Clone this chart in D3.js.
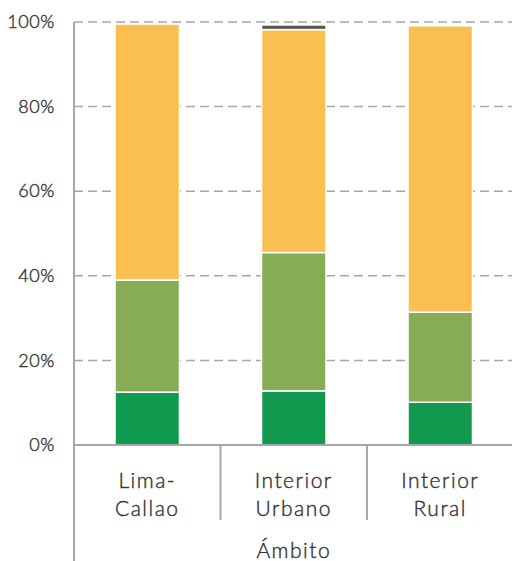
<!DOCTYPE html>
<html><head><meta charset="utf-8">
<script src="https://cdn.jsdelivr.net/npm/d3@7/dist/d3.min.js"></script>
<style>body{margin:0;background:#fff;} text{font-family:Lato,"Open Sans",sans-serif;font-weight:300;fill:#333;stroke:#333;stroke-width:0.4px;}</style>
</head><body><svg id="c" width="512" height="561"></svg>
<script>
const categories = [["Lima-","Callao"],["Interior","Urbano"],["Interior","Rural"]];
const categoryKeys = ["Lima-Callao","Interior Urbano","Interior Rural"];
const seriesKeys = ["s1","s2","s3","s4"];
const s1 = [12.5, 12.8, 10.1];
const s2 = [26.5, 32.7, 21.3];
const s3 = [60.5, 52.7, 67.7];
const s4 = [0, 1.1, 0];
const colors = ["#10994F","#86AC55","#F9BF51","#595959"];
const yTicks = [0,20,40,60,80,100];
const axisTitle = "Ámbito";

const svg = d3.select("#c");
const pL = 74, pR = 513.5, pT = 22, pB = 445;
const x = d3.scaleBand().domain(categoryKeys).range([pL,pR]).padding(0);
const y = d3.scaleLinear().domain([0,100]).range([pB,pT]);
const table = categoryKeys.map((k,i)=>({cat:k,s1:s1[i],s2:s2[i],s3:s3[i],s4:s4[i]}));
const stacked = d3.stack().keys(seriesKeys)(table);
const grid = "#A6A6A6";

// gridlines
svg.append("g").selectAll("line").data(yTicks.filter(d=>d>0)).join("line")
  .attr("x1",pL).attr("x2",512).attr("y1",d=>y(d)).attr("y2",d=>y(d))
  .attr("stroke",grid).attr("stroke-width",1.5).attr("stroke-dasharray","9,5");

// bars
const bw = x.bandwidth()*0.44;
svg.append("g").selectAll("g").data(stacked).join("g").attr("fill",(d,i)=>colors[i])
  .selectAll("rect").data(d=>d).join("rect")
  .attr("x",d=>x(d.data.cat)+(x.bandwidth()-bw)/2).attr("width",bw)
  .attr("y",d=>y(d[1])).attr("height",d=>Math.max(0,y(d[0])-y(d[1])))
  .attr("stroke","#fff").attr("stroke-width",1.5);

// y axis labels
const ya = svg.append("g").attr("transform",`translate(${pL},0)`)
  .call(d3.axisLeft(y).tickValues(yTicks).tickSize(0).tickPadding(19).tickFormat(d=>d+"%"));
ya.select(".domain").remove();
ya.selectAll("text").style("font-size","18px").style("letter-spacing","0.6px").attr("fill","#333")
  .style("font-family","Lato, sans-serif").style("font-weight","300");

// axis lines
svg.append("line").attr("x1",pL).attr("x2",pL).attr("y1",pT).attr("y2",561).attr("stroke",grid).attr("stroke-width",2);
svg.append("line").attr("x1",pL).attr("x2",512).attr("y1",pB).attr("y2",pB).attr("stroke",grid).attr("stroke-width",2);
svg.append("g").selectAll("line").data(categoryKeys.slice(1)).join("line")
  .attr("x1",d=>x(d)).attr("x2",d=>x(d)).attr("y1",pB).attr("y2",520)
  .attr("stroke",grid).attr("stroke-width",2);

// category labels
const cl = svg.append("g").selectAll("text").data(categoryKeys).join("text")
  .attr("text-anchor","middle").style("font-size","21px").style("letter-spacing","1.5px");
cl.each(function(d,i){
  const t=d3.select(this);
  categories[i].forEach((ln,j)=>t.append("tspan").attr("x",x(d)+x.bandwidth()/2).attr("y",488+j*28).text(ln));
});
svg.append("text").attr("x",(pL+pR)/2).attr("y",558).attr("text-anchor","middle")
  .style("font-size","21px").style("letter-spacing","1.5px").text(axisTitle);
</script></body></html>
